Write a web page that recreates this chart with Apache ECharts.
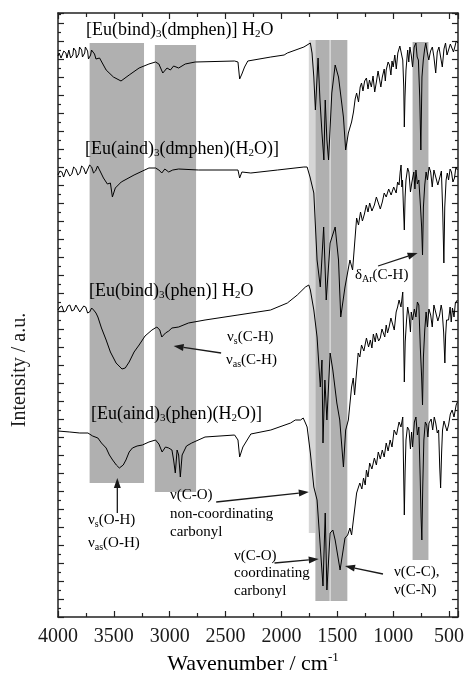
<!DOCTYPE html>
<html>
<head>
<meta charset="utf-8">
<script src="https://cdn.jsdelivr.net/npm/echarts@6.0.0/dist/echarts.min.js"></script>
<style>
  html, body { margin: 0; padding: 0; background: #fff; }
  #chart { width: 467px; height: 675px; }
</style>
</head>
<body>
<div id="chart"></div>
<script>
// wavenumber (cm-1), intensity (a.u., offset traces)
var bindDmphen = [
  [4000,56.1],[3990,56.4],[3982,56.2],[3973,55.9],[3965,55.8],[3956,56.0],[3948,56.6],[3940,56.5],[3929,56.4],[3920,55.9],
  [3912,56.0],[3903,56.7],[3894,56.5],[3887,55.9],[3880,56.0],[3867,56.2],[3860,56.9],[3852,56.7],[3841,56.6],[3835,55.9],
  [3828,56.0],[3814,56.3],[3807,57.0],[3800,56.8],[3788,56.7],[3781,56.0],[3775,56.1],[3761,56.4],[3755,57.0],[3748,56.8],
  [3735,56.6],[3727,55.8],[3720,56.0],[3708,56.2],[3700,56.7],[3690,56.5],[3673,56.3],[3660,55.8],[3650,55.9],[3628,55.9],
  [3569,54.7],[3504,54.0],[3436,53.6],[3363,54.2],[3274,54.9],[3186,55.3],[3127,55.5],[3097,55.3],[3062,54.4],[3024,54.9],
  [2994,54.7],[2965,55.1],[2920,54.9],[2861,55.3],[2772,55.5],[2419,55.6],[2389,55.5],[2374,53.8],[2354,54.3],[2330,55.0],
  [2301,55.6],[2095,56.0],[1976,56.2],[1962,56.0],[1947,56.4],[1799,57.0],[1741,57.4],[1726,56.4],[1710,54.0],[1696,50.7],
  [1672,55.9],[1655,51.7],[1637,48.4],[1620,45.7],[1608,51.7],[1593,47.7],[1578,45.7],[1549,52.4],[1519,55.2],[1489,54.0],
  [1445,50.0],[1425,46.7],[1401,48.4],[1372,49.5],[1355,50.5],[1340,51.8],[1327,52.4],[1310,51.5],[1295,53.0],[1283,53.4],
  [1270,52.6],[1255,53.6],[1239,53.9],[1225,52.8],[1212,53.7],[1195,53.0],[1180,54.1],[1165,52.5],[1150,53.5],[1135,54.6],
  [1121,54.4],[1110,53.0],[1097,54.0],[1080,54.8],[1070,53.6],[1062,54.7],[1045,55.5],[1033,55.2],[1020,54.2],[1010,55.6],
  [1000,55.0],[985,56.2],[972,54.8],[958,56.4],[940,57.1],[929,57.0],[920,56.0],[914,55.7],[905,53.0],[900,49.0],
  [894,52.0],[885,54.7],[870,56.7],[860,55.5],[850,57.0],[838,56.2],[826,55.0],[812,57.0],[796,57.4],[785,56.0],
  [774,55.7],[762,52.0],[752,46.7],[742,54.0],[730,55.7],[718,56.8],[708,57.4],[695,56.5],[681,55.7],[665,56.6],
  [649,57.0],[635,56.0],[619,54.4],[605,56.5],[590,57.0],[575,56.0],[560,55.0],[545,56.8],[531,57.4],[518,56.2],
  [504,56.7],[488,57.3],[472,57.5],[460,56.5],[448,57.0],[435,57.6],[420,57.4]
];
var aindDmphen = [
  [4000,44.2],[3983,44.6],[3965,44.5],[3950,44.0],[3938,44.1],[3925,44.8],[3911,44.7],[3894,44.1],[3876,44.3],[3860,45.0],
  [3841,44.8],[3823,44.2],[3805,44.4],[3788,45.1],[3770,44.9],[3752,44.3],[3735,44.5],[3717,45.2],[3699,45.0],[3682,44.4],
  [3664,44.6],[3646,45.1],[3628,44.7],[3593,43.9],[3558,43.3],[3531,43.4],[3513,42.0],[3487,42.9],[3434,43.5],[3319,44.2],
  [3186,44.9],[3127,44.9],[3097,44.7],[3071,44.4],[3044,44.8],[3009,44.5],[2973,44.7],[2920,44.8],[2743,44.7],[2389,44.7],
  [2374,43.9],[2354,44.5],[2274,44.4],[2035,44.7],[1799,45.0],[1770,45.0],[1744,44.0],[1710,42.4],[1681,35.7],[1652,33.0],
  [1622,39.0],[1599,31.7],[1564,37.4],[1519,39.0],[1489,35.7],[1469,30.0],[1431,33.0],[1387,35.7],[1363,34.7],[1327,39.9],
  [1310,39.2],[1292,40.5],[1275,39.6],[1257,40.3],[1240,41.2],[1225,40.5],[1210,41.4],[1190,40.6],[1168,41.2],[1150,42.0],
  [1133,41.8],[1115,40.8],[1097,41.5],[1080,42.4],[1062,42.0],[1040,42.8],[1018,42.2],[995,43.0],[973,42.4],[960,43.5],
  [947,43.2],[937,44.5],[929,45.2],[922,43.0],[916,43.7],[908,41.0],[900,38.7],[893,42.0],[885,43.7],[870,44.9],
  [859,44.5],[845,42.5],[832,43.5],[815,44.5],[805,42.8],[796,44.7],[783,43.3],[770,43.7],[755,41.0],[745,39.0],
  [737,36.2],[729,41.0],[717,43.2],[705,44.5],[693,43.7],[678,45.0],[664,44.5],[650,43.0],[635,44.7],[619,44.7],
  [600,43.2],[584,43.9],[568,44.6],[556,40.5],[546,35.4],[538,41.0],[526,43.7],[515,44.4],[504,43.7],[490,44.8],
  [478,44.5],[465,43.5],[451,43.9],[438,45.0],[425,44.7]
];
var bindPhen = [
  [4000,30.7],[3983,31.0],[3965,31.1],[3947,30.5],[3929,30.6],[3912,31.1],[3894,31.2],[3876,30.6],[3858,30.7],[3840,31.2],
  [3823,31.1],[3805,30.5],[3788,30.6],[3770,31.1],[3752,31.0],[3735,30.4],[3717,30.5],[3699,30.9],[3681,30.7],[3660,30.4],
  [3643,30.0],[3611,28.9],[3569,27.7],[3531,26.5],[3480,25.4],[3427,24.8],[3398,24.9],[3363,25.5],[3319,26.5],[3274,27.2],
  [3221,28.1],[3159,28.7],[3115,29.0],[3089,28.7],[3071,28.0],[3038,28.4],[3009,28.6],[2980,28.9],[2920,29.0],[2832,29.4],
  [2684,29.7],[2389,30.2],[2097,30.7],[1947,31.4],[1858,32.2],[1785,33.0],[1755,33.2],[1741,32.7],[1710,30.7],[1681,28.0],
  [1652,23.0],[1637,25.7],[1628,17.4],[1611,23.7],[1593,19.7],[1564,26.4],[1540,24.7],[1504,21.4],[1478,19.7],[1445,15.0],
  [1425,18.7],[1401,19.7],[1372,23.0],[1357,23.9],[1345,22.2],[1313,26.4],[1298,26.0],[1283,27.2],[1262,26.6],[1239,27.9],
  [1220,27.0],[1204,27.7],[1190,26.9],[1177,28.3],[1160,27.5],[1150,28.4],[1130,27.6],[1115,27.9],[1100,28.8],[1088,28.9],
  [1075,28.0],[1062,29.2],[1050,28.4],[1036,29.0],[1020,29.9],[1003,29.7],[990,28.7],[973,30.5],[960,31.0],[947,31.7],
  [930,31.0],[914,32.5],[906,28.0],[900,23.5],[892,27.5],[880,29.7],[870,31.0],[858,30.2],[845,28.5],[838,30.5],
  [826,29.7],[810,30.8],[796,30.0],[783,31.5],[770,31.2],[757,27.0],[745,24.0],[737,21.2],[729,26.0],[717,28.7],
  [705,30.5],[693,29.0],[680,30.8],[664,30.2],[650,29.0],[635,31.2],[619,31.0],[600,29.6],[584,30.2],[570,31.2],
  [562,30.7],[548,28.5],[537,25.4],[530,28.2],[522,29.7],[504,29.7],[490,31.0],[480,29.5],[469,30.9],[455,30.0],
  [443,31.4],[425,31.7]
];
var aindPhen = [
  [4000,18.6],[3894,18.5],[3805,18.4],[3732,18.4],[3690,18.1],[3643,17.9],[3611,17.4],[3569,16.9],[3540,16.2],[3511,15.7],
  [3478,15.2],[3451,14.9],[3436,14.7],[3416,15.2],[3392,15.7],[3363,16.5],[3334,16.9],[3292,17.1],[3245,17.2],[3186,17.5],
  [3127,17.7],[3097,17.3],[3068,16.5],[3038,17.0],[3009,16.9],[2980,16.7],[2965,15.7],[2950,14.4],[2934,16.7],[2920,16.2],
  [2905,14.0],[2889,16.2],[2876,16.4],[2850,17.1],[2803,17.4],[2684,18.0],[2419,18.2],[2389,17.7],[2374,16.0],[2345,17.0],
  [2274,18.3],[2095,18.7],[1918,19.4],[1876,19.7],[1829,19.7],[1805,19.9],[1785,19.4],[1770,19.0],[1741,16.4],[1710,13.0],
  [1696,13.0],[1681,11.7],[1652,7.0],[1628,3.1],[1608,10.4],[1593,2.7],[1564,8.4],[1540,8.7],[1519,7.7],[1475,4.7],
  [1431,7.9],[1407,8.2],[1387,8.9],[1372,8.2],[1357,8.4],[1327,12.4],[1310,13.0],[1298,13.4],[1280,12.8],[1265,13.9],
  [1250,13.2],[1239,14.7],[1225,14.0],[1210,15.4],[1190,14.8],[1168,15.9],[1150,15.2],[1133,16.5],[1115,15.8],[1097,16.7],
  [1080,16.0],[1062,17.4],[1045,16.6],[1027,17.7],[1010,17.0],[991,18.7],[970,18.2],[947,19.5],[930,19.0],[914,20.0],
  [907,15.0],[900,10.2],[893,14.5],[885,17.7],[872,19.0],[858,18.7],[845,16.8],[835,18.5],[826,17.0],[810,19.5],
  [796,20.0],[783,18.2],[770,19.0],[758,14.0],[750,10.0],[743,7.7],[735,13.0],[725,17.7],[712,19.5],[699,19.2],
  [689,18.0],[679,19.4],[660,19.8],[646,18.7],[632,20.0],[619,19.4],[605,18.4],[593,18.7],[583,15.0],[575,12.9],
  [566,16.5],[558,18.7],[545,19.6],[531,19.7],[518,18.6],[504,19.2],[488,20.3],[472,20.7],[455,20.0],[436,21.2],
  [425,21.5]
];
// shaded bands: [high wavenumber, low wavenumber, top, bottom]
var bandsDark = [[3717,3230,57.4,13.4],[3133,2764,57.2,12.5],[1696,1569,57.7,1.6],[1558,1410,57.7,1.6],[826,684,57.5,5.7]];
var bandsLight = [[1755,1696,57.7,8.4],[1569,1558,57.7,1.6]];
// arrows: [from wavenumber, from value, to wavenumber, to value]
var arrows = [[2540,26.4,2965,27.1],[1135,35.1,781,36.4],[3469,10.4,3469,13.9],[2584,11.5,1755,12.5],[2062,5.4,1666,5.8],[1091,4.3,1431,5.1]];

var FONT = '"Liberation Serif", "Times New Roman", serif';
var INK = '#1a1a1a';

function toX(w) { return 4000 - w; }
function conv(arr) { return arr.map(function (p) { return [toX(p[0]), p[1]]; }); }

var bandRows = bandsLight.map(function (b) { return [toX(b[0]), b[2], toX(b[1]), b[3], 0]; })
  .concat(bandsDark.map(function (b) { return [toX(b[0]), b[2], toX(b[1]), b[3], 1]; }));
var arrowRows = arrows.map(function (a) { return [toX(a[0]), a[1], toX(a[2]), a[3]]; });

function lineSeries(name, arr) {
  return {
    name: name, type: 'line', data: conv(arr), symbol: 'none', z: 3,
    lineStyle: { color: '#000', width: 1 }, silent: true
  };
}

var rich = {
  n: { fontSize: 18, fontFamily: FONT, color: INK },
  s: { fontSize: 11, fontFamily: FONT, color: INK, padding: [9, 0, 0, 0] }
};
var richSmall = {
  n: { fontSize: 15, fontFamily: FONT, color: INK },
  s: { fontSize: 10, fontFamily: FONT, color: INK, padding: [9, 0, 0, 0] }
};
function label(x, y, text, r) {
  return { type: 'text', x: x, y: y, z: 10,
    style: { text: text, rich: r || rich, verticalAlign: 'middle', align: 'left' } };
}

var axisLine = { show: true, onZero: false, lineStyle: { color: '#222', width: 1.5 } };
var xCommon = {
  type: 'value', min: 0, max: 3580, interval: 500,
  axisLine: axisLine, splitLine: { show: false },
  axisTick: { inside: true, length: 6, lineStyle: { color: '#222', width: 1.2 } },
  minorTick: { show: true, splitNumber: 2, length: 4, lineStyle: { color: '#222', width: 1.2 } }
};
var yCommon = {
  type: 'value', min: 0, max: 60.4, interval: 1.8,
  axisLine: axisLine, splitLine: { show: false }, axisLabel: { show: false },
  axisTick: { inside: true, length: 6, lineStyle: { color: '#222', width: 1.2 } },
  minorTick: { show: true, splitNumber: 2, length: 3, lineStyle: { color: '#222', width: 1.2 } }
};

var option = {
  animation: false,
  backgroundColor: '#fff',
  grid: { left: 58, right: 4, top: 13, bottom: 58 },
  xAxis: [
    Object.assign({}, xCommon, { position: 'bottom',
      axisLabel: { showMaxLabel: false, margin: 10, fontSize: 20, fontFamily: FONT, color: INK,
        formatter: function (v) { return String(4000 - v); } } }),
    Object.assign({}, xCommon, { position: 'top', axisLabel: { show: false } })
  ],
  yAxis: [
    Object.assign({}, yCommon, { position: 'left' }),
    Object.assign({}, yCommon, { position: 'right' })
  ],
  series: [
    {
      type: 'custom', data: bandRows, z: 1, silent: true,
      renderItem: function (params, api) {
        var p1 = api.coord([api.value(0), api.value(1)]);
        var p2 = api.coord([api.value(2), api.value(3)]);
        return { type: 'rect',
          shape: { x: p1[0], y: p1[1], width: p2[0] - p1[0], height: p2[1] - p1[1] },
          style: { fill: api.value(4) ? '#b0b0b0' : '#d6d6d6' } };
      }
    },
    lineSeries('[Eu(bind)3(dmphen)] H2O', bindDmphen),
    lineSeries('[Eu(aind)3(dmphen)(H2O)]', aindDmphen),
    lineSeries('[Eu(bind)3(phen)] H2O', bindPhen),
    lineSeries('[Eu(aind)3(phen)(H2O)]', aindPhen),
    {
      type: 'custom', data: arrowRows, z: 5, silent: true,
      renderItem: function (params, api) {
        var a = api.coord([api.value(0), api.value(1)]);
        var b = api.coord([api.value(2), api.value(3)]);
        var ang = Math.atan2(b[1] - a[1], b[0] - a[0]);
        var L = 10, W = 3.5;
        var base = [b[0] - L * Math.cos(ang), b[1] - L * Math.sin(ang)];
        var l = [base[0] + W * Math.sin(ang), base[1] - W * Math.cos(ang)];
        var r = [base[0] - W * Math.sin(ang), base[1] + W * Math.cos(ang)];
        return { type: 'group', children: [
          { type: 'line', shape: { x1: a[0], y1: a[1], x2: base[0], y2: base[1] }, style: { stroke: INK, lineWidth: 1.3 } },
          { type: 'polygon', shape: { points: [b, l, r] }, style: { fill: INK } }
        ] };
      }
    }
  ],
  graphic: [
    label(86, 30, '{n|[Eu(bind)}{s|3}{n|(dmphen)] H}{s|2}{n|O}'),
    label(85, 149, '{n|[Eu(aind)}{s|3}{n|(dmphen)(H}{s|2}{n|O)]}'),
    label(89, 291, '{n|[Eu(bind)}{s|3}{n|(phen)] H}{s|2}{n|O}'),
    label(91, 414, '{n|[Eu(aind)}{s|3}{n|(phen)(H}{s|2}{n|O)]}'),
    label(227, 337, '{n|ν}{s|s}{n|(C-H)}', richSmall),
    label(226, 360, '{n|ν}{s|as}{n|(C-H)}', richSmall),
    label(355, 275, '{n|δ}{s|Ar}{n|(C-H)}', richSmall),
    label(88, 520, '{n|ν}{s|s}{n|(O-H)}', richSmall),
    label(88, 543, '{n|ν}{s|as}{n|(O-H)}', richSmall),
    label(170, 495, '{n|ν(C-O)}', richSmall),
    label(170, 514, '{n|non-coordinating}', richSmall),
    label(170, 532, '{n|carbonyl}', richSmall),
    label(234, 556, '{n|ν(C-O)}', richSmall),
    label(234, 573, '{n|coordinating}', richSmall),
    label(234, 591, '{n|carbonyl}', richSmall),
    label(394, 572, '{n|ν(C-C),}', richSmall),
    label(394, 590, '{n|ν(C-N)}', richSmall),
    { type: 'text', x: 20, y: 370, rotation: Math.PI / 2, z: 10,
      style: { text: 'Intensity / a.u.', font: '20px ' + FONT, fill: INK, align: 'center', verticalAlign: 'middle' } },
    { type: 'text', x: 253, y: 664, z: 10,
      style: { text: '{n|Wavenumber / cm}{p|-1}', align: 'center', verticalAlign: 'middle',
        rich: { n: { fontSize: 22, fontFamily: FONT, color: INK },
                p: { fontSize: 13, fontFamily: FONT, color: INK, padding: [0, 0, 12, 0] } } } }
  ]
};

var chart = echarts.init(document.getElementById('chart'));
chart.setOption(option);
</script>
</body>
</html>
